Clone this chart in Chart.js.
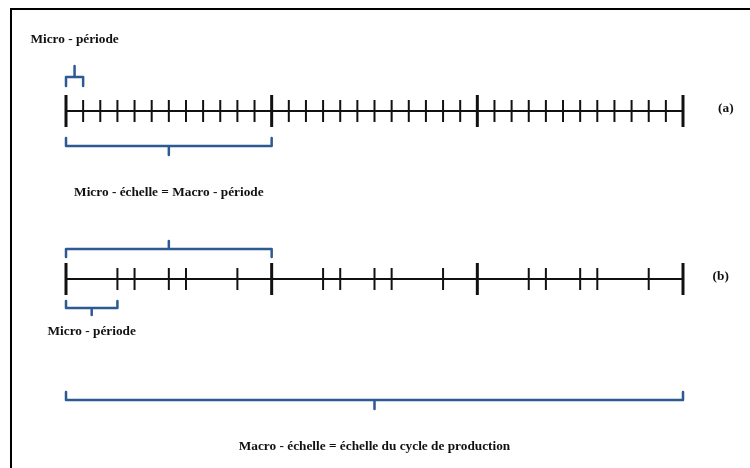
<!DOCTYPE html>
<html>
<head>
<meta charset="utf-8">
<script src="https://cdn.jsdelivr.net/npm/chart.js@4/dist/chart.umd.min.js"></script>
<style>
  body { margin: 0; background: #fff; }
  #wrap { width: 750px; height: 468px; position: relative; }
</style>
</head>
<body>
<div id="wrap"><canvas id="myChart"></canvas></div>
<script>
// x axis is in micro-periods (36 per production cycle), y is the vertical layout of the drawing
const macroTicks = [0, 12, 24, 36];
const microTicksA = [1, 2, 3, 4, 5, 6, 7, 8, 9, 10, 11, 13, 14, 15, 16, 17, 18, 19, 20, 21, 22, 23, 25, 26, 27, 28, 29, 30, 31, 32, 33, 34, 35];
const microTicksB = [3, 4, 6, 7, 10, 15, 16, 18, 19, 22, 27, 28, 30, 31, 34];

// rows
const rowA = 111;
const rowB = 279;

// braces: [from, to, endY, barY, nubY]
const braces = [
    [0, 1, 86, 77, 66],
    [0, 12, 138, 146, 155],
    [0, 12, 257, 249, 241],
    [0, 3, 301, 308, 315],
    [0, 36, 392, 400, 409]
];

// labels: [text, x, y]
const labels = [
    ['Micro - période', 0.5, 40],
    ['Micro - échelle = Macro - période', 6, 193],
    ['(a)', 38.5, 109],
    ['(b)', 38.2, 277],
    ['Micro - période', 1.5, 332],
    ['Macro - échelle = échelle du cycle de production', 18, 447]
];

const black = '#111';
const blue = '#2e5a94';

function tickSet(values, row, half, width) {
    return {
        data: values.map(v => ({x: v, y: row})),
        showLine: false,
        pointStyle: 'line',
        rotation: 90,
        pointRadius: half,
        pointBorderWidth: width,
        pointBorderColor: black,
        clip: false
    };
}

function axisLine(row) {
    return {
        data: [{x: macroTicks[0], y: row}, {x: macroTicks[macroTicks.length - 1], y: row}],
        showLine: true,
        borderColor: black,
        borderWidth: 2,
        pointRadius: 0,
        clip: false
    };
}

function brace(b) {
    const mid = (b[0] + b[1]) / 2;
    return {
        data: [
            {x: b[0], y: b[2]}, {x: b[0], y: b[3]}, {x: mid, y: b[3]}, {x: mid, y: b[4]},
            {x: mid, y: b[3]}, {x: b[1], y: b[3]}, {x: b[1], y: b[2]}
        ],
        showLine: true,
        borderColor: blue,
        borderWidth: 2.5,
        borderJoinStyle: 'round',
        borderCapStyle: 'round',
        pointRadius: 0,
        clip: false
    };
}

const datasets = [
    axisLine(rowA),
    axisLine(rowB),
    tickSet(microTicksA, rowA, 11, 2),
    tickSet(microTicksB, rowB, 11, 2),
    tickSet(macroTicks, rowA, 16, 3),
    tickSet(macroTicks, rowB, 16, 3)
].concat(braces.map(brace));

const framePlugin = {
    id: 'frame',
    beforeDraw(chart) {
        const ctx = chart.ctx;
        ctx.save();
        ctx.fillStyle = '#fff';
        ctx.fillRect(0, 0, chart.width, chart.height);
        ctx.strokeStyle = '#000';
        ctx.lineWidth = 2;
        ctx.beginPath();
        ctx.moveTo(11, chart.height);
        ctx.lineTo(11, 9);
        ctx.lineTo(chart.width, 9);
        ctx.stroke();
        ctx.restore();
    }
};

const textPlugin = {
    id: 'texts',
    afterDatasetsDraw(chart) {
        const ctx = chart.ctx;
        const x = chart.scales.x;
        const y = chart.scales.y;
        ctx.save();
        ctx.font = 'bold 13.3px "Liberation Serif", "Times New Roman", serif';
        ctx.fillStyle = black;
        ctx.textAlign = 'center';
        ctx.textBaseline = 'middle';
        labels.forEach(l => {
            ctx.fillText(l[0], x.getPixelForValue(l[1]), y.getPixelForValue(l[2]));
        });
        ctx.restore();
    }
};

new Chart(document.getElementById('myChart'), {
    type: 'scatter',
    data: {datasets: datasets},
    options: {
        responsive: true,
        maintainAspectRatio: false,
        animation: false,
        events: [],
        layout: {autoPadding: false, padding: {left: 66, right: 67, top: 0, bottom: 0}},
        plugins: {legend: {display: false}, tooltip: {enabled: false}},
        scales: {
            x: {type: 'linear', display: false, min: 0, max: 36},
            y: {type: 'linear', display: false, min: 0, max: 468, reverse: true}
        }
    },
    plugins: [framePlugin, textPlugin]
});
</script>
</body>
</html>
